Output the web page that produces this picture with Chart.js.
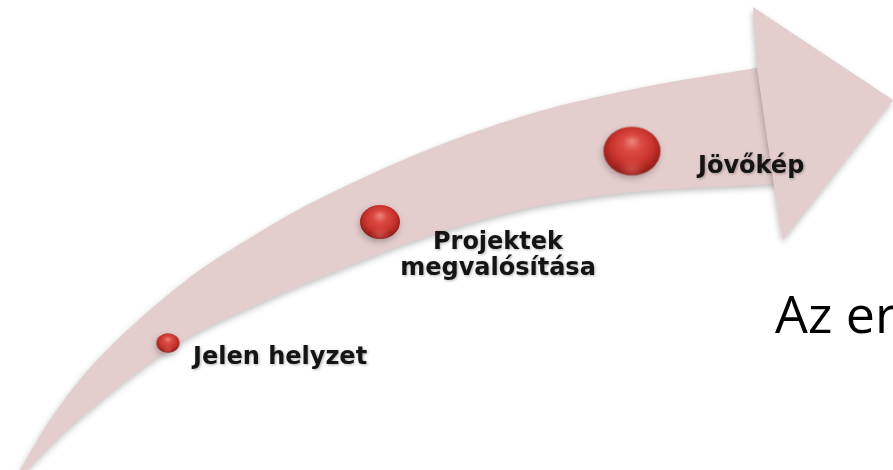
<!DOCTYPE html>
<html>
<head>
<meta charset="utf-8">
<script src="https://cdn.jsdelivr.net/npm/chart.js@4.4.0/dist/chart.umd.min.js"></script>
<style>
  html, body { margin: 0; padding: 0; background: #fff; }
  #wrap { width: 893px; height: 470px; }
</style>
</head>
<body>
<div id="wrap"><canvas id="myChart" width="893" height="470"></canvas></div>
<script>
// stages along the arrow
const stageNames = [["Jelen helyzet"], ["Projektek", "megvalósítása"], ["Jövőkép"]];
const stageX = [168, 380, 632];
const stageY = [343, 222, 151];
const stageSize = [11.5, 20, 28.5];

// arrow outline (pixels, y pointing down)
const upperX = [20, 50, 83, 117, 157, 200, 250, 311, 422, 533, 644, 756, 810];
const upperY = [470, 420, 376, 340, 304, 270, 238, 203, 152, 113, 87, 68, 58];
const lowerX = [27, 67, 117, 157, 200, 260, 311, 422, 533, 644, 776, 810];
const lowerY = [470, 430, 388, 358, 331, 303, 281, 238, 207, 191, 184, 182];
const headX = [757, 753, 893, 783, 774];
const headY = [68, 7, 100, 240, 186];

const sideText = "Az er";

const arrowColor = '#e4cdcd';

function makeBall(rx) {
  const ry = rx * 0.85;
  const c = document.createElement('canvas');
  c.width = Math.ceil(rx * 2 + 2);
  c.height = Math.ceil(ry * 2 + 2);
  const g = c.getContext('2d');
  g.translate(c.width / 2, c.height / 2);
  g.scale(1, ry / rx);
  const grad = g.createRadialGradient(0, -rx * 0.4, 0, 0, -rx * 0.1, rx * 1.15);
  grad.addColorStop(0, '#ec8579');
  grad.addColorStop(0.3, '#dc4a42');
  grad.addColorStop(0.65, '#c8342d');
  grad.addColorStop(0.88, '#9e211c');
  grad.addColorStop(1, '#7a1512');
  g.beginPath();
  g.arc(0, 0, rx, 0, Math.PI * 2);
  g.fillStyle = grad;
  g.fill();
  // faint reflected light on the lower rim
  const rim = g.createRadialGradient(0, rx * 0.75, 0, 0, rx * 0.75, rx * 0.5);
  rim.addColorStop(0, 'rgba(230,110,100,0.45)');
  rim.addColorStop(1, 'rgba(230,110,100,0)');
  g.fillStyle = rim;
  g.fill();
  return c;
}

const balls = stageSize.map(makeBall);

const stagePts = stageX.map((x, i) => ({ x: x, y: stageY[i] }));
const headPts = headX.map((x, i) => ({ x: x, y: headY[i] }));
const bodyPts = upperX.map((x, i) => ({ x: x, y: upperY[i] }))
  .concat(lowerX.map((x, i) => ({ x: x, y: lowerY[i] })).reverse());

const shadowAndText = {
  id: 'shadowAndText',
  beforeDatasetsDraw(chart) {
    const ctx = chart.ctx;
    ctx.save();
    ctx.shadowColor = 'rgba(0,0,0,0.25)';
    ctx.shadowBlur = 6;
    ctx.shadowOffsetX = -1;
    ctx.shadowOffsetY = 3;
  },
  afterDatasetsDraw(chart) {
    const ctx = chart.ctx;
    ctx.restore();
    const pts = chart.getDatasetMeta(0).data;
    ctx.save();
    ctx.fillStyle = '#141414';
    ctx.font = 'bold 24px "DejaVu Sans"';
    ctx.shadowColor = 'rgba(0,0,0,0.3)';
    ctx.shadowBlur = 3;
    ctx.shadowOffsetX = 1;
    ctx.shadowOffsetY = 1;
    // Jelen helyzet
    ctx.textAlign = 'left';
    ctx.fillText(stageNames[0][0], pts[0].x + 25, pts[0].y + 21);
    // Projektek megvalósítása
    ctx.textAlign = 'center';
    ctx.fillText(stageNames[1][0], pts[1].x + 118, pts[1].y + 27);
    ctx.fillText(stageNames[1][1], pts[1].x + 118, pts[1].y + 53);
    // Jövőkép
    ctx.textAlign = 'left';
    ctx.fillText(stageNames[2][0], pts[2].x + 66, pts[2].y + 22);
    ctx.restore();

    ctx.save();
    ctx.fillStyle = '#000';
    ctx.font = '52px "Open Sans"';
    ctx.textAlign = 'left';
    ctx.fillText(sideText, 775, 333);
    ctx.restore();
  }
};

new Chart(document.getElementById('myChart'), {
  type: 'scatter',
  data: {
    datasets: [
      {
        label: 'stages',
        data: stagePts,
        pointStyle: ctx => balls[ctx.dataIndex],
        pointRadius: stageSize,
        showLine: false
      },
      {
        label: 'head',
        data: headPts,
        showLine: true,
        fill: 'shape',
        backgroundColor: arrowColor,
        borderColor: 'transparent',
        borderWidth: 0,
        pointRadius: 0,
        tension: 0
      },
      {
        label: 'body',
        data: bodyPts,
        showLine: true,
        fill: 'shape',
        backgroundColor: arrowColor,
        borderColor: 'transparent',
        borderWidth: 0,
        pointRadius: 0,
        tension: 0.3
      }
    ]
  },
  options: {
    responsive: false,
    animation: false,
    events: [],
    layout: { padding: 0, autoPadding: false },
    scales: {
      x: { type: 'linear', min: 0, max: 893, display: false },
      y: { type: 'linear', min: 0, max: 470, reverse: true, display: false }
    },
    plugins: {
      legend: { display: false },
      tooltip: { enabled: false }
    }
  },
  plugins: [shadowAndText]
});
</script>
</body>
</html>
